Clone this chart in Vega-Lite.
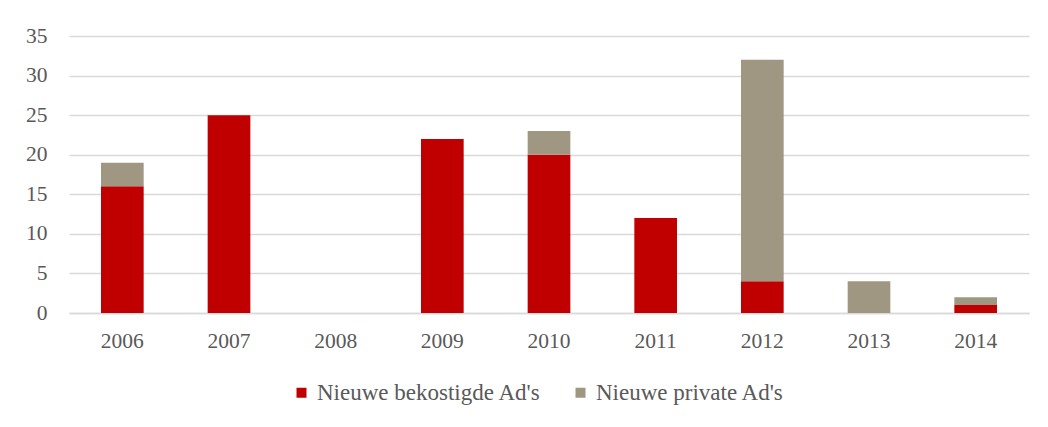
{
  "$schema": "https://vega.github.io/schema/vega-lite/v6.json",
  "autosize": "none",
  "width": 960,
  "height": 277,
  "padding": {"left": 69, "top": 36, "right": 19, "bottom": 114},
  "background": "white",
  "data": {
    "values": [
      {"year": "2006", "series": "Nieuwe bekostigde Ad's", "value": 16},
      {"year": "2006", "series": "Nieuwe private Ad's", "value": 3},
      {"year": "2007", "series": "Nieuwe bekostigde Ad's", "value": 25},
      {"year": "2007", "series": "Nieuwe private Ad's", "value": 0},
      {"year": "2008", "series": "Nieuwe bekostigde Ad's", "value": 0},
      {"year": "2008", "series": "Nieuwe private Ad's", "value": 0},
      {"year": "2009", "series": "Nieuwe bekostigde Ad's", "value": 22},
      {"year": "2009", "series": "Nieuwe private Ad's", "value": 0},
      {"year": "2010", "series": "Nieuwe bekostigde Ad's", "value": 20},
      {"year": "2010", "series": "Nieuwe private Ad's", "value": 3},
      {"year": "2011", "series": "Nieuwe bekostigde Ad's", "value": 12},
      {"year": "2011", "series": "Nieuwe private Ad's", "value": 0},
      {"year": "2012", "series": "Nieuwe bekostigde Ad's", "value": 4},
      {"year": "2012", "series": "Nieuwe private Ad's", "value": 28},
      {"year": "2013", "series": "Nieuwe bekostigde Ad's", "value": 0},
      {"year": "2013", "series": "Nieuwe private Ad's", "value": 4},
      {"year": "2014", "series": "Nieuwe bekostigde Ad's", "value": 1},
      {"year": "2014", "series": "Nieuwe private Ad's", "value": 1}
    ]
  },
  "mark": {"type": "bar"},
  "encoding": {
    "x": {
      "field": "year", "type": "nominal",
      "scale": {"paddingInner": 0.6, "paddingOuter": 0.3},
      "axis": {"title": null, "labelAngle": 0, "ticks": false, "domain": true, "domainColor": "#D9D9D9", "domainWidth": 1.5, "labelPadding": 17}
    },
    "y": {
      "field": "value", "type": "quantitative", "stack": "zero",
      "scale": {"domain": [0, 35], "nice": false},
      "axis": {"title": null, "values": [0, 5, 10, 15, 20, 25, 30, 35], "domain": false, "ticks": false, "labelPadding": 22, "gridColor": "#D9D9D9", "gridWidth": 1.5}
    },
    "color": {
      "field": "series", "type": "nominal",
      "scale": {"domain": ["Nieuwe bekostigde Ad's", "Nieuwe private Ad's"], "range": ["#C00000", "#A09783"]},
      "legend": {"title": null, "orient": "none", "legendX": 221, "legendY": 345, "direction": "horizontal", "symbolType": "square", "symbolSize": 100, "symbolStrokeWidth": 0, "columnPadding": 28, "labelOffset": 4}
    },
    "order": {"field": "series", "sort": "ascending"}
  },
  "config": {
    "view": {"stroke": null},
    "font": "Liberation Serif",
    "axis": {"labelFont": "Liberation Serif", "labelFontSize": 21.5, "labelColor": "#595959"},
    "legend": {"labelFont": "Liberation Serif", "labelFontSize": 23, "labelColor": "#595959", "labelLimit": 400}
  }
}
